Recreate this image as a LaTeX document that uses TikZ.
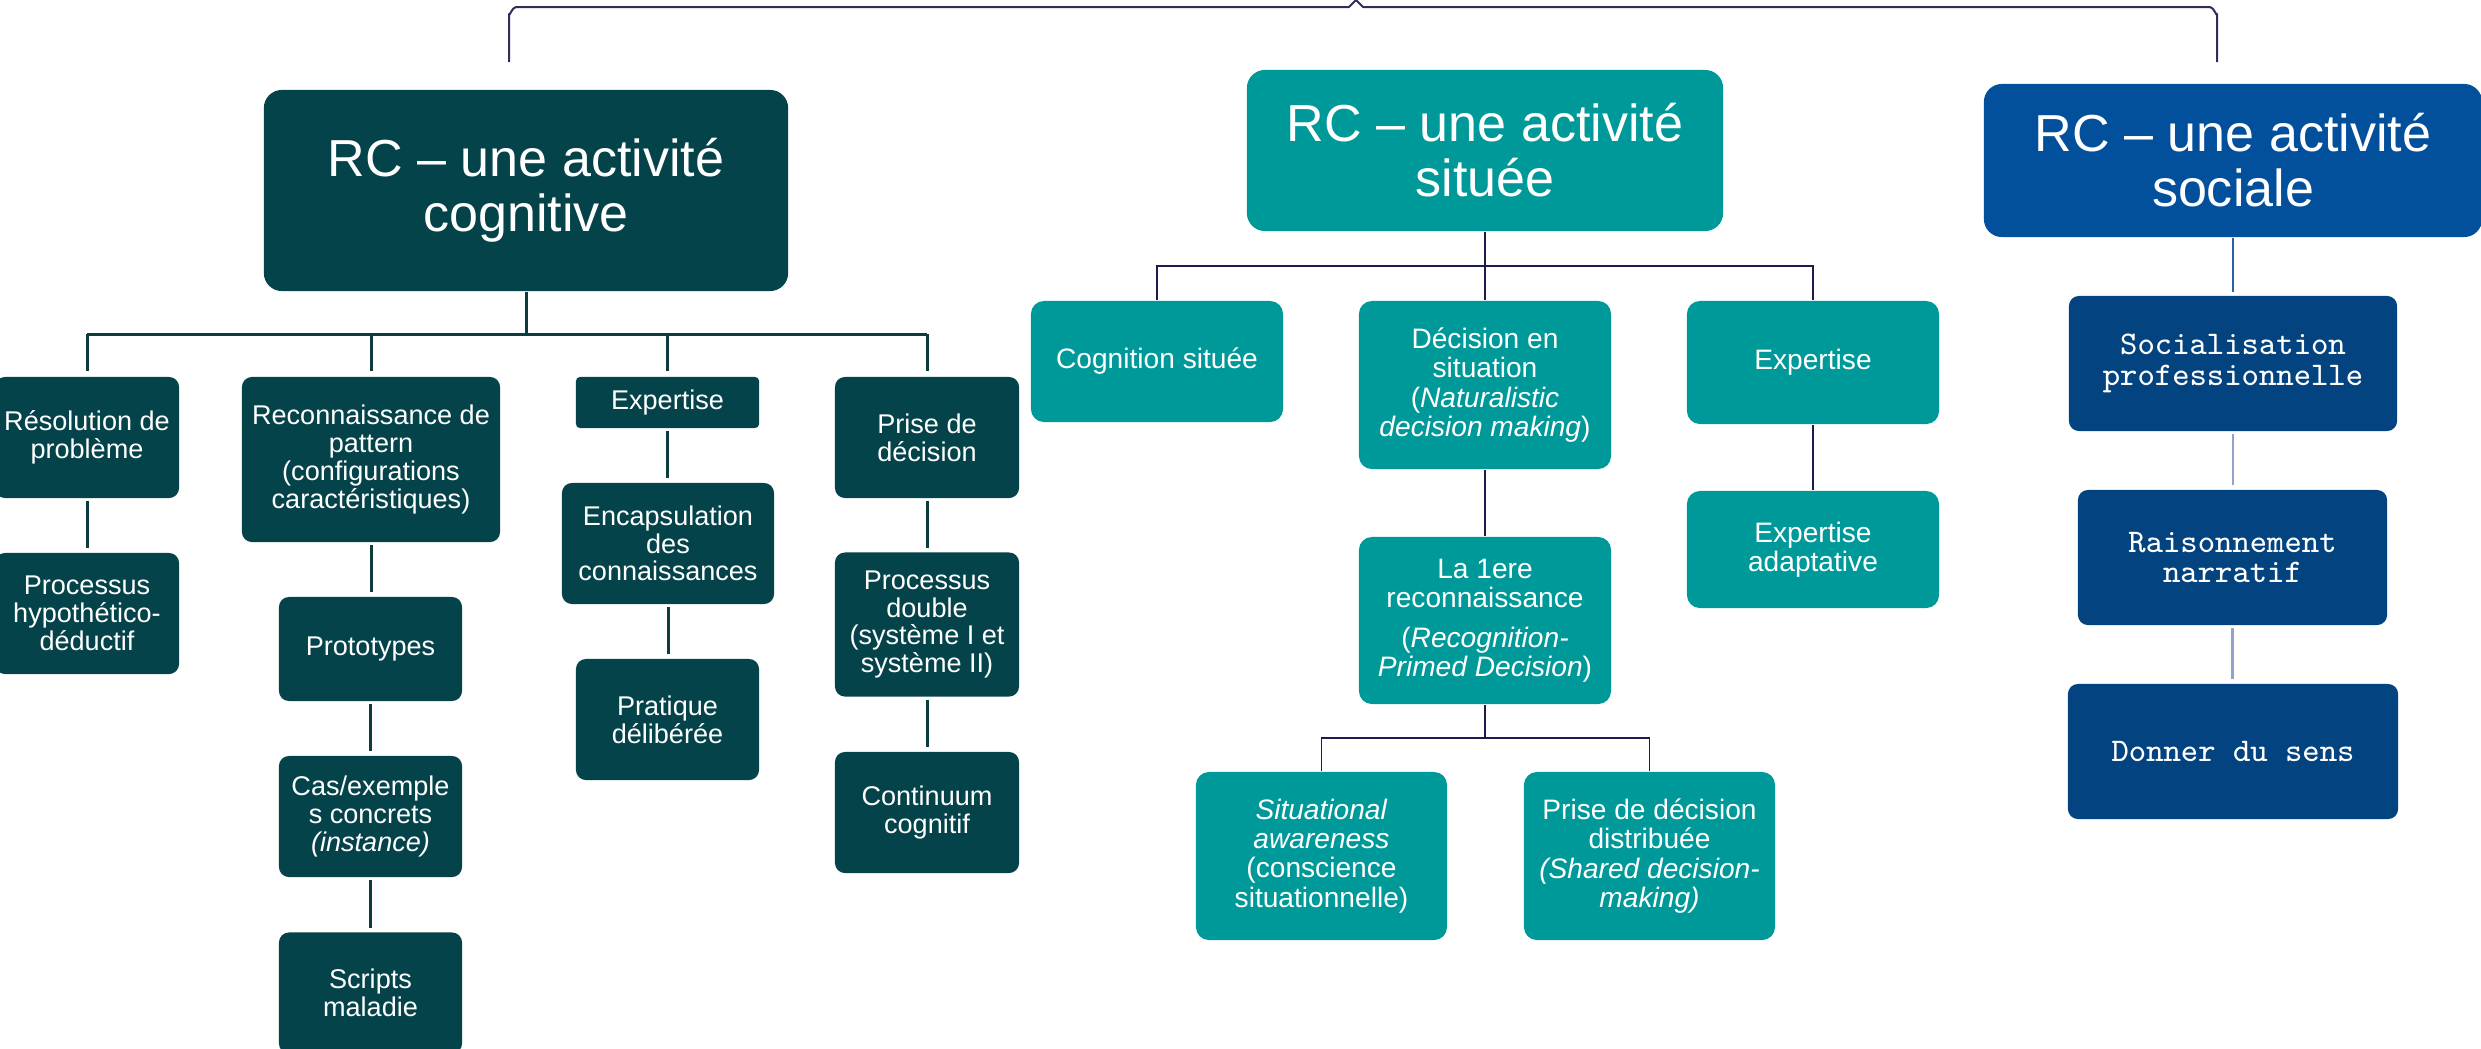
\documentclass[tikz,border=0pt]{standalone}
\usepackage{fontspec}
\setmainfont{Liberation Sans}
\definecolor{cogc}{HTML}{04434A}
\definecolor{sitc}{HTML}{009999}
\definecolor{socmainc}{HTML}{024F9B}
\definecolor{socsub}{HTML}{03437F}
\definecolor{coglc}{HTML}{0E3B3E}
\definecolor{sitlc}{HTML}{1C1C4C}
\definecolor{brc}{HTML}{2E2E5A}
\definecolor{socl1}{HTML}{2F5FA8}
\definecolor{socl2}{HTML}{8FA3CF}
\tikzset{
  bx/.style={rectangle, inner sep=0pt, align=center, text=white},
  sz/.style 2 args={minimum width=#1, minimum height=#2},
  cogbox/.style={bx, fill=cogc, rounded corners=0.1cm, font=\fontsize{7.7}{7.9}\selectfont},
  sitbox/.style={bx, fill=sitc, rounded corners=0.13cm, font=\fontsize{8}{8.3}\selectfont},
  socbox/.style={bx, fill=socsub, rounded corners=0.1cm, font=\ttfamily\fontsize{9.4}{8.6}\selectfont},
  titlebox/.style={bx, rounded corners=0.18cm, font=\fontsize{14.8}{15.6}\selectfont},
  gap/.style={shorten <=0.025cm, shorten >=0.04cm},
  cogline/.style={draw=coglc, line width=0.03cm},
  sitline/.style={draw=sitlc, line width=0.018cm},
  socline/.style={draw=socl1, line width=0.028cm},
  socline2/.style={draw=socl2, line width=0.028cm},
  brline/.style={draw=brc, line width=0.02cm, line join=round},
}
\begin{document}
\begin{tikzpicture}[x=0.01cm, y=-0.01cm]
\useasboundingbox (0,0) rectangle (2481,1048);

% ---------- top bracket ----------
\coordinate (bl) at (509,62);
\coordinate (br) at (2217,62);
\coordinate (btop) at (1356,0);
\draw[brline] (bl) -- (509,14) to[out=-90,in=180] (516,7) -- (1349,7) -- (btop) -- (1363,7) -- (2210,7) to[out=0,in=-90] (2217,14) -- (br);

% ---------- titles ----------
\node[titlebox, fill=cogc, sz={5.24cm}{2.01cm}] (cogmain) at (526,190.5) {RC – une activité\\cognitive};
\node[titlebox, fill=sitc, sz={4.76cm}{1.61cm}] (sitmain) at (1485,150.5) {RC – une activité\\située};
\node[titlebox, fill=socmainc, sz={4.98cm}{1.53cm}] (socmain) at (2233,160.5) {RC – une activité\\sociale};

% ---------- cognitive column ----------
\node[cogbox, sz={1.84cm}{1.21cm}] (res) at (87,437.5) {Résolution de\\problème};
\node[cogbox, sz={1.84cm}{1.21cm}] (hyp) at (87,613.5) {Processus\\hypothético-\\déductif};
\node[cogbox, sz={2.58cm}{1.65cm}] (pat) at (371,459.5) {Reconnaissance de\\pattern\\(configurations\\caractéristiques)};
\node[cogbox, sz={1.83cm}{1.04cm}] (proto) at (370.5,649) {Prototypes};
\node[cogbox, sz={1.83cm}{1.21cm}] (cas) at (370.5,816.5) {Cas/exemple\\s concrets\\\textit{(instance)}};
\node[cogbox, sz={1.83cm}{1.21cm}] (scr) at (370.5,993) {Scripts\\maladie};
\node[cogbox, rounded corners=0.04cm, sz={1.83cm}{0.51cm}] (exp1) at (667.5,402.5) {Expertise};
\node[cogbox, sz={2.12cm}{1.21cm}] (enc) at (668,543.5) {Encapsulation\\des\\connaissances};
\node[cogbox, sz={1.83cm}{1.21cm}] (pra) at (667.5,719.5) {Pratique\\délibérée};
\node[cogbox, sz={1.84cm}{1.21cm}] (pri) at (927,437.5) {Prise de\\décision};
\node[cogbox, sz={1.84cm}{1.44cm}] (dbl) at (927,624.5) {Processus\\double\\(système I et\\système II)};
\node[cogbox, sz={1.84cm}{1.21cm}] (con) at (927,812.5) {Continuum\\cognitif};

\coordinate (cb) at (0,334);
\draw[cogline] (cogmain.south) -- (cogmain.south |- cb);
\draw[cogline, shorten >=0.05cm] (res.north |- cb) -- (res.north);
\draw[cogline] (res.north |- cb) -- (pri.north |- cb);
\draw[cogline, shorten >=0.05cm] (pri.north |- cb) -- (pri.north);
\draw[cogline, shorten >=0.05cm] (pat.north |- cb) -- (pat.north);
\draw[cogline, shorten >=0.05cm] (exp1.north |- cb) -- (exp1.north);
\draw[cogline, gap] (res) -- (hyp);
\draw[cogline, gap] (pat.south) -- (pat.south |- proto.north);
\draw[cogline, gap] (proto) -- (cas);
\draw[cogline, gap] (cas) -- (scr);
\draw[cogline, gap] (exp1.south) -- (exp1.south |- enc.north);
\draw[cogline, gap] (enc.south) -- (enc.south |- pra.north);
\draw[cogline, gap] (pri) -- (dbl);
\draw[cogline, gap] (dbl) -- (con);

% ---------- situated column ----------
\node[sitbox, sz={2.52cm}{1.21cm}] (cs) at (1157,361.5) {Cognition située};
\node[sitbox, sz={2.52cm}{1.68cm}] (dec) at (1485,385) {Décision en\\situation\\(\textit{Naturalistic}\\\textit{decision making})};
\node[sitbox, sz={2.52cm}{1.23cm}] (exp2) at (1813,362.5) {Expertise};
\node[sitbox, sz={2.52cm}{1.17cm}] (expa) at (1813,549.5) {Expertise\\adaptative};
\node[sitbox, sz={2.52cm}{1.67cm}] (rec) at (1485,620.5) {La 1ere\\reconnaissance\\[3pt](\textit{Recognition-}\\\textit{Primed Decision})};
\node[sitbox, sz={2.51cm}{1.68cm}] (sa) at (1321.5,856) {\textit{Situational}\\\textit{awareness}\\(conscience\\situationnelle)};
\node[sitbox, sz={2.51cm}{1.68cm}] (pdd) at (1649.5,856) {Prise de décision\\distribuée\\\textit{(Shared decision-}\\\textit{making)}};

\coordinate (sb) at (0,266);
\draw[sitline] (sitmain.south) -- (sitmain.south |- sb);
\draw[sitline] (cs.north) -- (cs.north |- sb) -- (exp2.north |- sb) -- (exp2.north);
\draw[sitline] (dec.north |- sb) -- (dec.north);
\draw[sitline] (dec) -- (rec);
\draw[sitline] (exp2) -- (expa);
\coordinate (rb) at (0,738);
\draw[sitline] (rec.south) -- (rec.south |- rb);
\draw[sitline] (sa.north) -- (sa.north |- rb) -- (pdd.north |- rb) -- (pdd.north);

% ---------- social column ----------
\node[socbox, sz={3.28cm}{1.35cm}] (soc1) at (2233,363.5) {Socialisation\\professionnelle};
\node[socbox, sz={3.09cm}{1.35cm}] (soc2) at (2232.5,557.5) {Raisonnement\\narratif};
\node[socbox, sz={3.30cm}{1.35cm}] (soc3) at (2233,751.5) {Donner du sens};
\draw[socline, shorten >=0.03cm] (socmain.south) -- (socmain.south |- soc1.north);
\draw[socline2, gap] (soc1.south) -- (soc1.south |- soc2.north);
\draw[socline2, gap] (soc2.south) -- (soc2.south |- soc3.north);
\end{tikzpicture}
\end{document}
